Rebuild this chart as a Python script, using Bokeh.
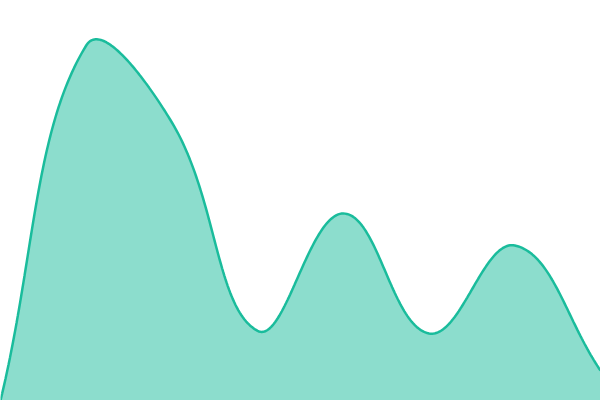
from bokeh.plotting import figure
from bokeh.models import Range1d
from bokeh.embed import file_html
from bokeh.resources import INLINE
import numpy as np

# data
labels = ["1", "2", "3", "4", "5", "6", "7", "8"]
values = [0, 88.75, 69.5, 17.4, 46.75, 16.75, 38.75, 7.5]

W, H = 600, 400
Y_MIN, Y_MAX = 0, 100
X_MIN, X_MAX = 0, len(values) - 1
LINE_COLOR = "#1abc9c"
TENSION = 0.4

p = figure(width=W, height=H, output_backend="svg", toolbar_location=None,
           x_range=Range1d(X_MIN, X_MAX), y_range=Range1d(Y_MIN, Y_MAX),
           min_border=0, min_border_left=0, min_border_right=0,
           min_border_top=0, min_border_bottom=0)
p.axis.visible = False
p.grid.visible = False
p.outline_line_color = None
p.background_fill_color = "white"
p.border_fill_color = "white"

# Chart.js-like spline (tension 0.4), control points computed in pixel space
sx = W / (X_MAX - X_MIN)
sy = H / (Y_MAX - Y_MIN)
px = np.arange(len(values)) * sx
py = (np.array(values, dtype=float) - Y_MIN) * sy
n = len(values)
prev_cp = [None] * n
next_cp = [None] * n
for i in range(n):
    cur = np.array([px[i], py[i]])
    pr = np.array([px[i - 1], py[i - 1]]) if i > 0 else cur
    nx = np.array([px[i + 1], py[i + 1]]) if i < n - 1 else cur
    d01 = np.hypot(*(cur - pr))
    d12 = np.hypot(*(nx - cur))
    tot = d01 + d12
    s01 = d01 / tot if tot else 0
    s12 = d12 / tot if tot else 0
    fa = TENSION * s01
    fb = TENSION * s12
    a = cur - fa * (nx - pr)
    b = cur + fb * (nx - pr)
    a[1] = min(max(a[1], 0), H)
    b[1] = min(max(b[1], 0), H)
    a[0] = min(max(a[0], 0), W)
    b[0] = min(max(b[0], 0), W)
    prev_cp[i] = a
    next_cp[i] = b

xs, ys = [], []
t = np.linspace(0, 1, 60)
for i in range(n - 1):
    p0 = np.array([px[i], py[i]])
    p1 = next_cp[i]
    p2 = prev_cp[i + 1]
    p3 = np.array([px[i + 1], py[i + 1]])
    bx = (1 - t) ** 3 * p0[0] + 3 * (1 - t) ** 2 * t * p1[0] + 3 * (1 - t) * t ** 2 * p2[0] + t ** 3 * p3[0]
    by = (1 - t) ** 3 * p0[1] + 3 * (1 - t) ** 2 * t * p1[1] + 3 * (1 - t) * t ** 2 * p2[1] + t ** 3 * p3[1]
    if i > 0:
        bx, by = bx[1:], by[1:]
    xs.extend(bx)
    ys.extend(by)

cx = [X_MIN + x / sx for x in xs]
cy = [Y_MIN + y / sy for y in ys]

p.patch(cx + [X_MAX, X_MIN], cy + [Y_MIN, Y_MIN],
        fill_color=LINE_COLOR, fill_alpha=0.5, line_color=None)
p.line(cx, cy, line_color=LINE_COLOR, line_width=2.5)

open("out.html", "w").write(file_html(p, INLINE))
